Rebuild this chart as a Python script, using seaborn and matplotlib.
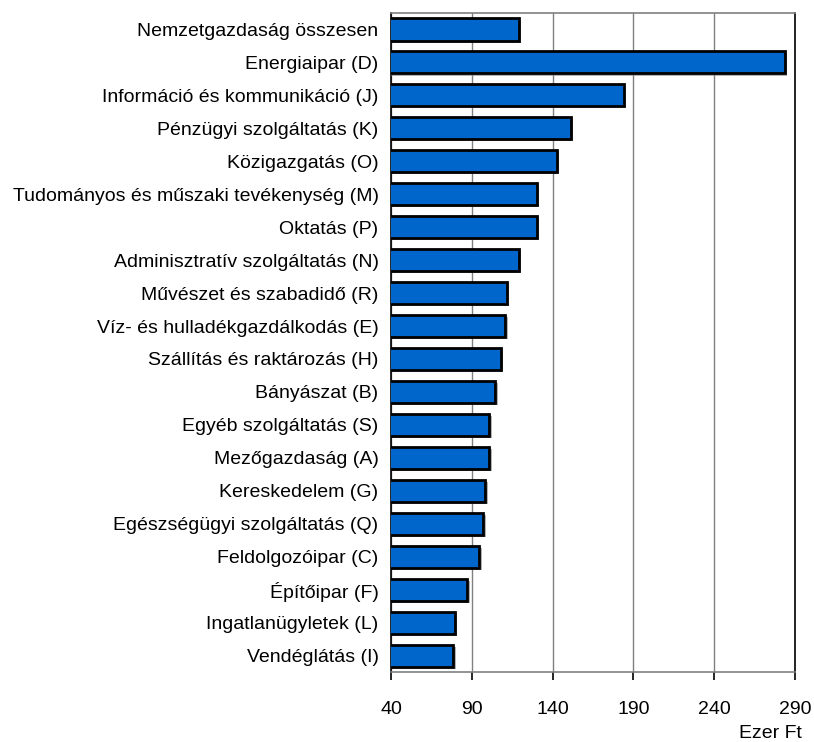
import seaborn as sns
import matplotlib.pyplot as plt
import matplotlib.patheffects as pe
import numpy as np
import pandas as pd

# ---- Data ----
sectors = [
    "Nemzetgazdaság összesen",
    "Energiaipar (D)",
    "Információ és kommunikáció (J)",
    "Pénzügyi szolgáltatás (K)",
    "Közigazgatás (O)",
    "Tudományos és műszaki tevékenység (M)",
    "Oktatás (P)",
    "Adminisztratív szolgáltatás (N)",
    "Művészet és szabadidő (R)",
    "Víz- és hulladékgazdálkodás (E)",
    "Szállítás és raktározás (H)",
    "Bányászat (B)",
    "Egyéb szolgáltatás (S)",
    "Mezőgazdaság (A)",
    "Kereskedelem (G)",
    "Egészségügyi szolgáltatás (Q)",
    "Feldolgozóipar (C)",
    "Építőipar (F)",
    "Ingatlanügyletek (L)",
    "Vendéglátás (I)",
]
values = [119.2, 284.0, 184.0, 151.6, 142.5, 130.3, 130.3, 119.4, 112.0, 110.8,
          108.3, 104.6, 100.9, 100.9, 98.4, 97.2, 94.7, 87.3, 79.8, 78.6]
x_ticks = [40, 90, 140, 190, 240, 290]

df = pd.DataFrame({"Ágazat": sectors, "Érték": values})

# ---- Visualization ----
sns.set_style("white")
plt.rcParams["font.family"] = ["Liberation Sans", "DejaVu Sans"]
plt.rcParams["text.color"] = "black"
plt.rcParams["xtick.color"] = "black"
plt.rcParams["ytick.color"] = "black"

fig = plt.figure(figsize=(8.14, 7.42), dpi=100)
ax = fig.add_axes([0.4804, 0.0943, 0.4963, 0.8882])

sns.barplot(data=df, x="Érték", y="Ágazat", orient="h", color="#0066CC",
            saturation=1, width=0.67, edgecolor="black", linewidth=2, ax=ax,
            zorder=3)

shadow = [pe.SimplePatchShadow(offset=(1.5, -1.5), shadow_rgbFace="#808080", alpha=0.6),
          pe.Normal()]
for p in ax.patches:
    p.set_path_effects(shadow)

ax.set_xlim(40, 290)
ax.set_xticks(x_ticks)
ax.set_xlabel("")
ax.set_ylabel("")
ax.grid(axis="x", color="#808080", linewidth=1, zorder=0)
ax.set_axisbelow(True)

# category boundary ticks
n = len(sectors)
ax.set_yticks(np.arange(-0.5, n, 1), minor=True)
ax.tick_params(axis="y", which="major", length=0, pad=9, labelsize=14, labelcolor="black")
ax.tick_params(axis="y", which="minor", length=6, width=1.2, color="#808080", direction="out")
ax.tick_params(axis="x", which="major", length=6, width=1.2, color="black",
               direction="out", pad=15, labelsize=14, labelcolor="black")
ax.tick_params(left=True, bottom=True)

for side in ["top", "bottom"]:
    ax.spines[side].set_color("#808080")
for side in ["left", "right"]:
    ax.spines[side].set_color("black")
for s in ax.spines.values():
    s.set_linewidth(1.2)

fig.text(0.985, 0.0, "Ezer Ft", ha="right", va="bottom", fontsize=14, color="black")

# ---- Save output ----
fig.savefig("out.png", dpi=100)
plt.close(fig)
